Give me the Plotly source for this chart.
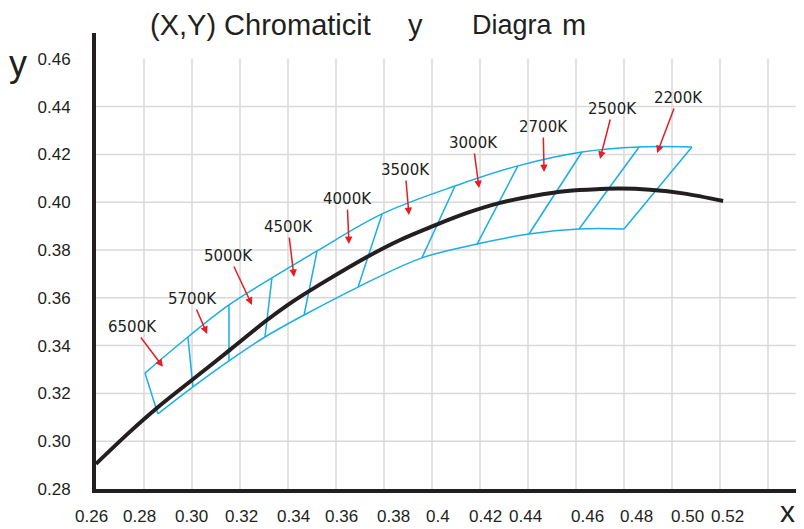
import plotly.graph_objects as go

# Planckian locus (black curve)
locus_x = [0.2600, 0.2742, 0.2854, 0.3000, 0.3158, 0.3313, 0.3421, 0.3563,
           0.3729, 0.3867, 0.4004, 0.4146, 0.4283, 0.4421, 0.4563, 0.4700,
           0.4783, 0.4908, 0.5046, 0.5213]
locus_y = [0.2905, 0.3040, 0.3139, 0.3256, 0.3382, 0.3507, 0.3585, 0.3674,
           0.3771, 0.3842, 0.3900, 0.3955, 0.3997, 0.4026, 0.4047, 0.4055,
           0.4057, 0.4052, 0.4037, 0.4005]

# CCT bin corners, upper and lower edge (blue)
upper_x = [0.2804, 0.2983, 0.3154, 0.3333, 0.3521, 0.3792, 0.4096, 0.4358,
           0.4625, 0.4863, 0.5083]
upper_y = [0.3285, 0.3436, 0.3570, 0.3683, 0.3796, 0.3951, 0.4068, 0.4152,
           0.4210, 0.4231, 0.4231]
lower_x = [0.2858, 0.3004, 0.3154, 0.3304, 0.3467, 0.3692, 0.3958, 0.4188,
           0.4404, 0.4613, 0.4800]
lower_y = [0.3114, 0.3227, 0.3336, 0.3436, 0.3528, 0.3645, 0.3767, 0.3825,
           0.3867, 0.3888, 0.3888]

cct_labels = ["6500K", "5700K", "5000K", "4500K", "4000K", "3500K", "3000K",
              "2700K", "2500K", "2200K"]
# where the red arrows point, and where their labels sit
arrow_x = [0.2879, 0.3063, 0.3250, 0.3425, 0.3654, 0.3904, 0.4196, 0.4467,
           0.4700, 0.4938]
arrow_y = [0.3311, 0.3449, 0.3570, 0.3687, 0.3825, 0.3946, 0.4059, 0.4126,
           0.4181, 0.4206]
label_x = [0.2754, 0.3000, 0.3154, 0.3400, 0.3646, 0.3888, 0.4171, 0.4463,
           0.4754, 0.5025]
label_y = [0.3478, 0.3595, 0.3775, 0.3896, 0.4013, 0.4135, 0.4248, 0.4315,
           0.4390, 0.4436]

grid_x = [0.28, 0.30, 0.32, 0.34, 0.36, 0.38, 0.40, 0.42, 0.44, 0.46, 0.48,
          0.50, 0.52, 0.54]
grid_y = [0.30, 0.32, 0.34, 0.36, 0.38, 0.40, 0.42, 0.44]
y_ticks = [0.28, 0.30, 0.32, 0.34, 0.36, 0.38, 0.40, 0.42, 0.44, 0.46]
x_tick_text = ["0.26", "0.28", "0.30", "0.32", "0.34", "0.36", "0.38", "0.4",
               "0.42", "0.44", "0.46", "0.48", "0.50", "0.52"]
x_tick_at = [0.2583, 0.2783, 0.2996, 0.3208, 0.3421, 0.3625, 0.3838, 0.4025,
             0.4221, 0.4388, 0.4646, 0.4854, 0.5063, 0.5233]

X_RANGE = [0.26, 0.555]
Y_RANGE = [0.28, 0.4708]
INK = "#231f20"
BLUE = "#1aade6"
RED = "#e31e24"
SANS = "Liberation Sans, Arial, sans-serif"

fig = go.Figure()

# blue bin edges
fig.add_trace(go.Scatter(x=upper_x, y=upper_y, mode="lines",
                         line=dict(color=BLUE, width=1.5, shape="spline"),
                         hoverinfo="skip"))
fig.add_trace(go.Scatter(x=lower_x, y=lower_y, mode="lines",
                         line=dict(color=BLUE, width=1.5, shape="spline"),
                         hoverinfo="skip"))
seg_x, seg_y = [], []
for i in range(len(upper_x)):
    seg_x += [upper_x[i], lower_x[i], None]
    seg_y += [upper_y[i], lower_y[i], None]
fig.add_trace(go.Scatter(x=seg_x, y=seg_y, mode="lines",
                         line=dict(color=BLUE, width=1.5), hoverinfo="skip"))

# black locus
fig.add_trace(go.Scatter(x=locus_x, y=locus_y, mode="lines",
                         line=dict(color=INK, width=4, shape="spline"),
                         hoverinfo="skip"))

# grid drawn as shapes so the verticals stop at 0.46
shapes = []
for gx in grid_x:
    shapes.append(dict(type="line", xref="x", yref="y", x0=gx, x1=gx,
                       y0=0.28, y1=0.46, layer="below",
                       line=dict(color="#d9d9d9", width=1.5)))
for gy in grid_y:
    shapes.append(dict(type="line", xref="paper", yref="y", x0=0, x1=1,
                       y0=gy, y1=gy, layer="below",
                       line=dict(color="#d9d9d9", width=1.5)))

annotations = []
for txt, hx, hy, tx, ty in zip(cct_labels, arrow_x, arrow_y, label_x, label_y):
    annotations.append(dict(
        x=hx, y=hy, ax=tx, ay=ty, xref="x", yref="y", axref="x", ayref="y",
        text=txt, showarrow=True, arrowhead=2, arrowsize=1, arrowwidth=1.5,
        arrowcolor=RED, standoff=0, startstandoff=0,
        font=dict(family="DejaVu Sans, sans-serif", size=15, color=INK)))

span = X_RANGE[1] - X_RANGE[0]
for txt, pos in zip(x_tick_text, x_tick_at):
    annotations.append(dict(
        x=(pos - X_RANGE[0]) / span, y=0, xref="paper", yref="paper",
        text=txt, showarrow=False, xanchor="center", yanchor="middle",
        yshift=-27, font=dict(family=SANS, size=17, color=INK)))

# title pieces, spaced as in the original
for txt, px, size in [("(X,Y) Chromaticit", 148, 29), ("y", 406, 29),
                      ("Diagra", 470, 27), ("m", 560, 29)]:
    annotations.append(dict(
        x=0, y=1, xref="paper", yref="paper", text=txt, showarrow=False,
        xanchor="left", yanchor="middle", xshift=px - 96, yshift=8,
        font=dict(family=SANS, size=size, color=INK)))

annotations.append(dict(x=0, y=1, xref="paper", yref="paper", text="y",
                        showarrow=False, xanchor="center", yanchor="middle",
                        xshift=-78, yshift=-30,
                        font=dict(family=SANS, size=36, color=INK)))
annotations.append(dict(x=1, y=0, xref="paper", yref="paper", text="x",
                        showarrow=False, xanchor="center", yanchor="middle",
                        xshift=-17, yshift=-22,
                        font=dict(family=SANS, size=30, color=INK)))

# the page body adds an 8px margin, so the figure is 8px smaller
fig.update_layout(
    width=796, height=521,
    margin=dict(l=88, r=0, t=25, b=40),
    plot_bgcolor="white", paper_bgcolor="white",
    showlegend=False,
    shapes=shapes,
    annotations=annotations,
    xaxis=dict(range=X_RANGE, showgrid=False, zeroline=False,
               showticklabels=False, ticks="",
               showline=True, linecolor=INK, linewidth=4),
    yaxis=dict(range=Y_RANGE, showgrid=False, zeroline=False,
               tickvals=y_ticks, ticktext=[f"{v:.2f}" for v in y_ticks],
               ticks="", ticklabelstandoff=18,
               tickfont=dict(family=SANS, size=17, color=INK),
               showline=True, linecolor=INK, linewidth=4),
)

fig.write_html("out.html")
